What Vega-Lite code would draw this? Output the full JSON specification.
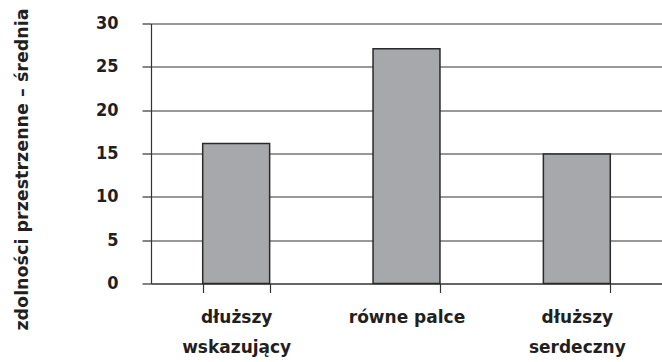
{
  "$schema": "https://vega.github.io/schema/vega-lite/v6.json",
  "autosize": "none",
  "width": 511,
  "height": 260,
  "padding": {"left": 151, "top": 23.5, "right": 0, "bottom": 78.5},
  "background": "white",
  "data": {
    "values": [
      {"kategoria": "dłuższy|wskazujący", "srednia": 16.15},
      {"kategoria": "równe palce", "srednia": 27.1},
      {"kategoria": "dłuższy|serdeczny", "srednia": 14.95}
    ]
  },
  "config": {
    "view": {"stroke": null},
    "font": "DejaVu Sans"
  },
  "mark": {"type": "bar", "fill": "#a7a8ab", "stroke": "#2a2a2a", "strokeWidth": 1.5},
  "encoding": {
    "x": {
      "field": "kategoria",
      "type": "nominal",
      "sort": null,
      "scale": {"paddingInner": 0.607, "paddingOuter": 0.3035},
      "axis": {
        "title": null,
        "labelAngle": 0,
        "labelExpr": "datum.value ? split(datum.value, '|') : ''",
        "labelFont": "DejaVu Sans",
        "labelFontWeight": "bold",
        "labelFontSize": 17,
        "labelColor": "#231f20",
        "labelLineHeight": 30,
        "labelBaseline": "top",
        "labelPadding": 17,
        "tickBand": "extent",
        "tickSize": 9,
        "tickColor": "#333333",
        "tickWidth": 1.2,
        "domain": true,
        "domainColor": "#333333",
        "domainWidth": 1.2,
        "grid": false
      }
    },
    "y": {
      "field": "srednia",
      "type": "quantitative",
      "scale": {"domain": [0, 30], "nice": false},
      "axis": {
        "values": [0, 5, 10, 15, 20, 25, 30],
        "title": "zdolności przestrzenne – średnia",
        "titleFont": "DejaVu Sans",
        "titleFontWeight": "bold",
        "titleFontSize": 17.5,
        "titleColor": "#231f20",
        "titleAngle": -90,
        "titleAlign": "center",
        "titleBaseline": "alphabetic",
        "titleX": -124,
        "titleY": 145.5,
        "labelFont": "DejaVu Sans Condensed",
        "labelFontWeight": "bold",
        "labelFontSize": 18,
        "labelColor": "#231f20",
        "labelPadding": 24,
        "tickSize": 9,
        "tickColor": "#333333",
        "tickWidth": 1.2,
        "domainColor": "#333333",
        "domainWidth": 1.2,
        "grid": true,
        "gridColor": "#333333",
        "gridWidth": 1.2,
        "gridOpacity": 1
      }
    }
  }
}
